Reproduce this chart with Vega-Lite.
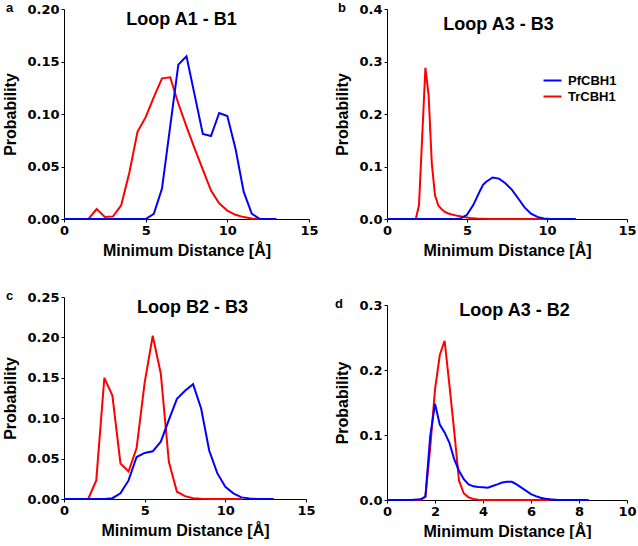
{
  "$schema": "https://vega.github.io/schema/vega-lite/v6.json",
  "padding": {"left": 2, "top": 2, "right": 0, "bottom": 0},
  "background": "white",
  "config": {
    "view": {"stroke": null},
    "font": "Liberation Sans",
    "axis": {
      "grid": false,
      "domainColor": "#000000", "domainWidth": 1,
      "tickColor": "#000000", "tickSize": 3, "tickWidth": 1,
      "labelFont": "DejaVu Sans", "labelFontWeight": "bold", "labelFontSize": 13, "labelColor": "#000000", "labelPadding": 2,
      "titleFont": "Liberation Sans", "titleFontWeight": "bold", "titleFontSize": 16, "titleColor": "#000000"
    },
    "axisX": {"titlePadding": 5, "labelFlush": false},
    "axisY": {"titlePadding": 8},
    "title": {"font": "Liberation Sans", "fontWeight": "bold", "fontSize": 13, "color": "#000000", "anchor": "start", "frame": "bounds", "dy": 16},
    "legend": {
      "orient": "none", "legendX": 482, "legendY": 65, "padding": 0,
      "symbolType": "M-3,0H3", "symbolSize": 36, "symbolStrokeWidth": 2,
      "labelFont": "Liberation Sans", "labelFontWeight": "bold", "labelFontSize": 13, "labelColor": "#000000",
      "labelOffset": 9, "rowPadding": 2
    }
  },
  "datasets": {
    "a": [
      {"distance": 0, "probability": 0, "protein": "TrCBH1"},
      {"distance": 0.5, "probability": 0, "protein": "TrCBH1"},
      {"distance": 1, "probability": 0, "protein": "TrCBH1"},
      {"distance": 1.5, "probability": 0, "protein": "TrCBH1"},
      {"distance": 2, "probability": 0.0095, "protein": "TrCBH1"},
      {"distance": 2.5, "probability": 0.002, "protein": "TrCBH1"},
      {"distance": 3, "probability": 0.0025, "protein": "TrCBH1"},
      {"distance": 3.5, "probability": 0.013, "protein": "TrCBH1"},
      {"distance": 4, "probability": 0.044, "protein": "TrCBH1"},
      {"distance": 4.5, "probability": 0.083, "protein": "TrCBH1"},
      {"distance": 5, "probability": 0.097, "protein": "TrCBH1"},
      {"distance": 5.5, "probability": 0.116, "protein": "TrCBH1"},
      {"distance": 6, "probability": 0.134, "protein": "TrCBH1"},
      {"distance": 6.5, "probability": 0.135, "protein": "TrCBH1"},
      {"distance": 7, "probability": 0.11, "protein": "TrCBH1"},
      {"distance": 7.5, "probability": 0.088, "protein": "TrCBH1"},
      {"distance": 8, "probability": 0.067, "protein": "TrCBH1"},
      {"distance": 8.5, "probability": 0.047, "protein": "TrCBH1"},
      {"distance": 9, "probability": 0.027, "protein": "TrCBH1"},
      {"distance": 9.5, "probability": 0.015, "protein": "TrCBH1"},
      {"distance": 10, "probability": 0.008, "protein": "TrCBH1"},
      {"distance": 10.5, "probability": 0.004, "protein": "TrCBH1"},
      {"distance": 11, "probability": 0.0018, "protein": "TrCBH1"},
      {"distance": 11.5, "probability": 0.0005, "protein": "TrCBH1"},
      {"distance": 12, "probability": 0, "protein": "TrCBH1"},
      {"distance": 0, "probability": 0, "protein": "PfCBH1"},
      {"distance": 1, "probability": 0, "protein": "PfCBH1"},
      {"distance": 2, "probability": 0, "protein": "PfCBH1"},
      {"distance": 3, "probability": 0, "protein": "PfCBH1"},
      {"distance": 4, "probability": 0, "protein": "PfCBH1"},
      {"distance": 4.5, "probability": 0, "protein": "PfCBH1"},
      {"distance": 5, "probability": 0, "protein": "PfCBH1"},
      {"distance": 5.5, "probability": 0.005, "protein": "PfCBH1"},
      {"distance": 6, "probability": 0.029, "protein": "PfCBH1"},
      {"distance": 6.5, "probability": 0.088, "protein": "PfCBH1"},
      {"distance": 7, "probability": 0.147, "protein": "PfCBH1"},
      {"distance": 7.5, "probability": 0.155, "protein": "PfCBH1"},
      {"distance": 8, "probability": 0.118, "protein": "PfCBH1"},
      {"distance": 8.5, "probability": 0.081, "protein": "PfCBH1"},
      {"distance": 9, "probability": 0.079, "protein": "PfCBH1"},
      {"distance": 9.5, "probability": 0.101, "protein": "PfCBH1"},
      {"distance": 10, "probability": 0.098, "protein": "PfCBH1"},
      {"distance": 10.5, "probability": 0.067, "protein": "PfCBH1"},
      {"distance": 11, "probability": 0.026, "protein": "PfCBH1"},
      {"distance": 11.5, "probability": 0.005, "protein": "PfCBH1"},
      {"distance": 12, "probability": 0, "protein": "PfCBH1"},
      {"distance": 12.5, "probability": 0, "protein": "PfCBH1"},
      {"distance": 13, "probability": 0, "protein": "PfCBH1"}
    ],
    "b": [
      {"distance": 0, "probability": 0, "protein": "TrCBH1"},
      {"distance": 1, "probability": 0, "protein": "TrCBH1"},
      {"distance": 1.8, "probability": 0, "protein": "TrCBH1"},
      {"distance": 2.0, "probability": 0.026, "protein": "TrCBH1"},
      {"distance": 2.4, "probability": 0.288, "protein": "TrCBH1"},
      {"distance": 2.6, "probability": 0.236, "protein": "TrCBH1"},
      {"distance": 2.8, "probability": 0.106, "protein": "TrCBH1"},
      {"distance": 3.0, "probability": 0.045, "protein": "TrCBH1"},
      {"distance": 3.2, "probability": 0.026, "protein": "TrCBH1"},
      {"distance": 3.4, "probability": 0.019, "protein": "TrCBH1"},
      {"distance": 3.6, "probability": 0.014, "protein": "TrCBH1"},
      {"distance": 3.8, "probability": 0.011, "protein": "TrCBH1"},
      {"distance": 4.0, "probability": 0.009, "protein": "TrCBH1"},
      {"distance": 4.4, "probability": 0.006, "protein": "TrCBH1"},
      {"distance": 4.8, "probability": 0.004, "protein": "TrCBH1"},
      {"distance": 5.2, "probability": 0.002, "protein": "TrCBH1"},
      {"distance": 5.6, "probability": 0.001, "protein": "TrCBH1"},
      {"distance": 6.0, "probability": 0.0005, "protein": "TrCBH1"},
      {"distance": 6.4, "probability": 0, "protein": "TrCBH1"},
      {"distance": 8, "probability": 0, "protein": "TrCBH1"},
      {"distance": 10, "probability": 0, "protein": "TrCBH1"},
      {"distance": 0, "probability": 0, "protein": "PfCBH1"},
      {"distance": 2, "probability": 0, "protein": "PfCBH1"},
      {"distance": 4, "probability": 0, "protein": "PfCBH1"},
      {"distance": 4.4, "probability": 0, "protein": "PfCBH1"},
      {"distance": 4.6, "probability": 0.001, "protein": "PfCBH1"},
      {"distance": 5.0, "probability": 0.008, "protein": "PfCBH1"},
      {"distance": 5.4, "probability": 0.027, "protein": "PfCBH1"},
      {"distance": 5.8, "probability": 0.053, "protein": "PfCBH1"},
      {"distance": 6.0, "probability": 0.065, "protein": "PfCBH1"},
      {"distance": 6.2, "probability": 0.071, "protein": "PfCBH1"},
      {"distance": 6.6, "probability": 0.079, "protein": "PfCBH1"},
      {"distance": 7.0, "probability": 0.077, "protein": "PfCBH1"},
      {"distance": 7.4, "probability": 0.068, "protein": "PfCBH1"},
      {"distance": 7.8, "probability": 0.056, "protein": "PfCBH1"},
      {"distance": 8.2, "probability": 0.039, "protein": "PfCBH1"},
      {"distance": 8.6, "probability": 0.022, "protein": "PfCBH1"},
      {"distance": 9.0, "probability": 0.01, "protein": "PfCBH1"},
      {"distance": 9.4, "probability": 0.004, "protein": "PfCBH1"},
      {"distance": 9.8, "probability": 0.001, "protein": "PfCBH1"},
      {"distance": 10.2, "probability": 0, "protein": "PfCBH1"},
      {"distance": 11, "probability": 0, "protein": "PfCBH1"},
      {"distance": 11.8, "probability": 0, "protein": "PfCBH1"}
    ],
    "c": [
      {"distance": 0, "probability": 0, "protein": "TrCBH1"},
      {"distance": 0.5, "probability": 0, "protein": "TrCBH1"},
      {"distance": 1, "probability": 0, "protein": "TrCBH1"},
      {"distance": 1.5, "probability": 0, "protein": "TrCBH1"},
      {"distance": 2, "probability": 0.023, "protein": "TrCBH1"},
      {"distance": 2.5, "probability": 0.15, "protein": "TrCBH1"},
      {"distance": 3, "probability": 0.128, "protein": "TrCBH1"},
      {"distance": 3.5, "probability": 0.044, "protein": "TrCBH1"},
      {"distance": 4, "probability": 0.034, "protein": "TrCBH1"},
      {"distance": 4.5, "probability": 0.063, "protein": "TrCBH1"},
      {"distance": 5, "probability": 0.144, "protein": "TrCBH1"},
      {"distance": 5.5, "probability": 0.202, "protein": "TrCBH1"},
      {"distance": 6, "probability": 0.155, "protein": "TrCBH1"},
      {"distance": 6.5, "probability": 0.046, "protein": "TrCBH1"},
      {"distance": 7, "probability": 0.009, "protein": "TrCBH1"},
      {"distance": 7.5, "probability": 0.0035, "protein": "TrCBH1"},
      {"distance": 8, "probability": 0.001, "protein": "TrCBH1"},
      {"distance": 8.5, "probability": 0.0003, "protein": "TrCBH1"},
      {"distance": 9, "probability": 0, "protein": "TrCBH1"},
      {"distance": 10, "probability": 0, "protein": "TrCBH1"},
      {"distance": 11, "probability": 0, "protein": "TrCBH1"},
      {"distance": 0, "probability": 0, "protein": "PfCBH1"},
      {"distance": 1, "probability": 0, "protein": "PfCBH1"},
      {"distance": 2, "probability": 0, "protein": "PfCBH1"},
      {"distance": 2.5, "probability": 0, "protein": "PfCBH1"},
      {"distance": 3, "probability": 0.001, "protein": "PfCBH1"},
      {"distance": 3.5, "probability": 0.007, "protein": "PfCBH1"},
      {"distance": 4, "probability": 0.023, "protein": "PfCBH1"},
      {"distance": 4.5, "probability": 0.052, "protein": "PfCBH1"},
      {"distance": 5, "probability": 0.057, "protein": "PfCBH1"},
      {"distance": 5.5, "probability": 0.059, "protein": "PfCBH1"},
      {"distance": 6, "probability": 0.071, "protein": "PfCBH1"},
      {"distance": 6.5, "probability": 0.098, "protein": "PfCBH1"},
      {"distance": 7, "probability": 0.124, "protein": "PfCBH1"},
      {"distance": 7.5, "probability": 0.134, "protein": "PfCBH1"},
      {"distance": 8, "probability": 0.142, "protein": "PfCBH1"},
      {"distance": 8.5, "probability": 0.112, "protein": "PfCBH1"},
      {"distance": 9, "probability": 0.06, "protein": "PfCBH1"},
      {"distance": 9.5, "probability": 0.032, "protein": "PfCBH1"},
      {"distance": 10, "probability": 0.015, "protein": "PfCBH1"},
      {"distance": 10.5, "probability": 0.007, "protein": "PfCBH1"},
      {"distance": 11, "probability": 0.002, "protein": "PfCBH1"},
      {"distance": 11.5, "probability": 0.0005, "protein": "PfCBH1"},
      {"distance": 12, "probability": 0, "protein": "PfCBH1"},
      {"distance": 12.5, "probability": 0, "protein": "PfCBH1"},
      {"distance": 13, "probability": 0, "protein": "PfCBH1"}
    ],
    "d": [
      {"distance": 0, "probability": 0, "protein": "TrCBH1"},
      {"distance": 0.6, "probability": 0, "protein": "TrCBH1"},
      {"distance": 1.0, "probability": 0, "protein": "TrCBH1"},
      {"distance": 1.4, "probability": 0, "protein": "TrCBH1"},
      {"distance": 1.6, "probability": 0.005, "protein": "TrCBH1"},
      {"distance": 1.8, "probability": 0.08, "protein": "TrCBH1"},
      {"distance": 2.0, "probability": 0.17, "protein": "TrCBH1"},
      {"distance": 2.2, "probability": 0.223, "protein": "TrCBH1"},
      {"distance": 2.4, "probability": 0.245, "protein": "TrCBH1"},
      {"distance": 2.6, "probability": 0.177, "protein": "TrCBH1"},
      {"distance": 2.8, "probability": 0.106, "protein": "TrCBH1"},
      {"distance": 3.0, "probability": 0.03, "protein": "TrCBH1"},
      {"distance": 3.2, "probability": 0.01, "protein": "TrCBH1"},
      {"distance": 3.4, "probability": 0.004, "protein": "TrCBH1"},
      {"distance": 3.6, "probability": 0.0015, "protein": "TrCBH1"},
      {"distance": 3.8, "probability": 0.0005, "protein": "TrCBH1"},
      {"distance": 4.0, "probability": 0, "protein": "TrCBH1"},
      {"distance": 5.0, "probability": 0, "protein": "TrCBH1"},
      {"distance": 6.0, "probability": 0, "protein": "TrCBH1"},
      {"distance": 6.8, "probability": 0, "protein": "TrCBH1"},
      {"distance": 0, "probability": 0, "protein": "PfCBH1"},
      {"distance": 0.6, "probability": 0, "protein": "PfCBH1"},
      {"distance": 1.0, "probability": 0, "protein": "PfCBH1"},
      {"distance": 1.4, "probability": 0.001, "protein": "PfCBH1"},
      {"distance": 1.6, "probability": 0.005, "protein": "PfCBH1"},
      {"distance": 1.8, "probability": 0.098, "protein": "PfCBH1"},
      {"distance": 2.0, "probability": 0.148, "protein": "PfCBH1"},
      {"distance": 2.2, "probability": 0.116, "protein": "PfCBH1"},
      {"distance": 2.4, "probability": 0.104, "protein": "PfCBH1"},
      {"distance": 2.6, "probability": 0.088, "protein": "PfCBH1"},
      {"distance": 2.8, "probability": 0.063, "protein": "PfCBH1"},
      {"distance": 3.0, "probability": 0.045, "protein": "PfCBH1"},
      {"distance": 3.2, "probability": 0.032, "protein": "PfCBH1"},
      {"distance": 3.4, "probability": 0.024, "protein": "PfCBH1"},
      {"distance": 3.6, "probability": 0.021, "protein": "PfCBH1"},
      {"distance": 3.8, "probability": 0.02, "protein": "PfCBH1"},
      {"distance": 4.0, "probability": 0.0195, "protein": "PfCBH1"},
      {"distance": 4.2, "probability": 0.019, "protein": "PfCBH1"},
      {"distance": 4.4, "probability": 0.0215, "protein": "PfCBH1"},
      {"distance": 4.6, "probability": 0.024, "protein": "PfCBH1"},
      {"distance": 4.8, "probability": 0.027, "protein": "PfCBH1"},
      {"distance": 5.0, "probability": 0.028, "protein": "PfCBH1"},
      {"distance": 5.2, "probability": 0.028, "protein": "PfCBH1"},
      {"distance": 5.4, "probability": 0.024, "protein": "PfCBH1"},
      {"distance": 5.6, "probability": 0.019, "protein": "PfCBH1"},
      {"distance": 5.8, "probability": 0.014, "protein": "PfCBH1"},
      {"distance": 6.0, "probability": 0.009, "protein": "PfCBH1"},
      {"distance": 6.2, "probability": 0.006, "protein": "PfCBH1"},
      {"distance": 6.4, "probability": 0.0036, "protein": "PfCBH1"},
      {"distance": 6.6, "probability": 0.002, "protein": "PfCBH1"},
      {"distance": 6.8, "probability": 0.001, "protein": "PfCBH1"},
      {"distance": 7.0, "probability": 0.0005, "protein": "PfCBH1"},
      {"distance": 7.2, "probability": 0, "protein": "PfCBH1"},
      {"distance": 7.8, "probability": 0, "protein": "PfCBH1"},
      {"distance": 8.4, "probability": 0, "protein": "PfCBH1"}
    ]
  },
  "bounds": "full",
  "spacing": 15,
  "hconcat": [
    {
      "bounds": "flush",
      "spacing": 78,
      "vconcat": [
        {
          "width": 245, "height": 210,
          "title": {"text": "a", "dx": 3},
          "data": {"name": "a"},
          "resolve": {"axis": {"x": "independent"}},
          "layer": [
            {
              "mark": {"type": "line", "strokeWidth": 2},
              "encoding": {
                "x": {"field": "distance", "type": "quantitative", "scale": {"domain": [0, 15], "nice": false}, "axis": {"title": "Minimum Distance [Å]", "values": [0, 5, 10, 15], "format": "d"}},
                "y": {"field": "probability", "type": "quantitative", "scale": {"domain": [0, 0.2], "nice": false}, "axis": {"title": "Probability", "values": [0, 0.05, 0.1, 0.15, 0.2], "format": ".2f"}},
                "color": {"field": "protein", "type": "nominal", "scale": {"domain": ["PfCBH1", "TrCBH1"], "range": ["#0000ff", "#ff0000"]}, "legend": {"title": null}}
              }
            },
            {
              "mark": {"type": "point", "opacity": 0},
              "encoding": {
                "x": {"field": "distance", "type": "quantitative", "axis": {"orient": "top", "title": "Loop A1 - B1", "domain": false, "ticks": false, "labels": false, "titleFontSize": 18, "titleBaseline": "alphabetic", "titleX": 117, "titleY": 15}}
              }
            }
          ]
        },
        {
          "width": 242, "height": 202,
          "title": {"text": "c", "dx": 3},
          "data": {"name": "c"},
          "resolve": {"axis": {"x": "independent"}},
          "layer": [
            {
              "mark": {"type": "line", "strokeWidth": 2},
              "encoding": {
                "x": {"field": "distance", "type": "quantitative", "scale": {"domain": [0, 15], "nice": false}, "axis": {"title": "Minimum Distance [Å]", "values": [0, 5, 10, 15], "format": "d"}},
                "y": {"field": "probability", "type": "quantitative", "scale": {"domain": [0, 0.25], "nice": false}, "axis": {"title": "Probability", "values": [0, 0.05, 0.1, 0.15, 0.2, 0.25], "format": ".2f"}},
                "color": {"field": "protein", "type": "nominal", "scale": {"domain": ["PfCBH1", "TrCBH1"], "range": ["#0000ff", "#ff0000"]}, "legend": {"title": null}}
              }
            },
            {
              "mark": {"type": "point", "opacity": 0},
              "encoding": {
                "x": {"field": "distance", "type": "quantitative", "axis": {"orient": "top", "title": "Loop B2 - B3", "domain": false, "ticks": false, "labels": false, "titleFontSize": 18, "titleBaseline": "alphabetic", "titleX": 128, "titleY": 15}}
              }
            }
          ]
        }
      ]
    },
    {
      "bounds": "flush",
      "spacing": 86,
      "vconcat": [
        {
          "width": 240, "height": 210,
          "title": {"text": "b", "dx": 3},
          "data": {"name": "b"},
          "resolve": {"axis": {"x": "independent"}},
          "layer": [
            {
              "mark": {"type": "line", "strokeWidth": 2},
              "encoding": {
                "x": {"field": "distance", "type": "quantitative", "scale": {"domain": [0, 15], "nice": false}, "axis": {"title": "Minimum Distance [Å]", "values": [0, 5, 10, 15], "format": "d"}},
                "y": {"field": "probability", "type": "quantitative", "scale": {"domain": [0, 0.4], "nice": false}, "axis": {"title": "Probability", "values": [0, 0.1, 0.2, 0.3, 0.4], "format": ".1f"}},
                "color": {"field": "protein", "type": "nominal", "scale": {"domain": ["PfCBH1", "TrCBH1"], "range": ["#0000ff", "#ff0000"]}, "legend": {"title": null}}
              }
            },
            {
              "mark": {"type": "point", "opacity": 0},
              "encoding": {
                "x": {"field": "distance", "type": "quantitative", "axis": {"orient": "top", "title": "Loop A3 - B3", "domain": false, "ticks": false, "labels": false, "titleFontSize": 18, "titleBaseline": "alphabetic", "titleX": 111, "titleY": 20}}
              }
            }
          ]
        },
        {
          "width": 240, "height": 195,
          "title": {"text": "d", "dx": 0},
          "data": {"name": "d"},
          "resolve": {"axis": {"x": "independent"}},
          "layer": [
            {
              "mark": {"type": "line", "strokeWidth": 2},
              "encoding": {
                "x": {"field": "distance", "type": "quantitative", "scale": {"domain": [0, 10], "nice": false}, "axis": {"title": "Minimum Distance [Å]", "values": [0, 2, 4, 6, 8, 10], "format": "d"}},
                "y": {"field": "probability", "type": "quantitative", "scale": {"domain": [0, 0.3], "nice": false}, "axis": {"title": "Probability", "values": [0, 0.1, 0.2, 0.3], "format": ".1f"}},
                "color": {"field": "protein", "type": "nominal", "scale": {"domain": ["PfCBH1", "TrCBH1"], "range": ["#0000ff", "#ff0000"]}, "legend": {"title": null}}
              }
            },
            {
              "mark": {"type": "point", "opacity": 0},
              "encoding": {
                "x": {"field": "distance", "type": "quantitative", "axis": {"orient": "top", "title": "Loop A3 - B2", "domain": false, "ticks": false, "labels": false, "titleFontSize": 18, "titleBaseline": "alphabetic", "titleX": 127, "titleY": 10}}
              }
            }
          ]
        }
      ]
    }
  ]
}
